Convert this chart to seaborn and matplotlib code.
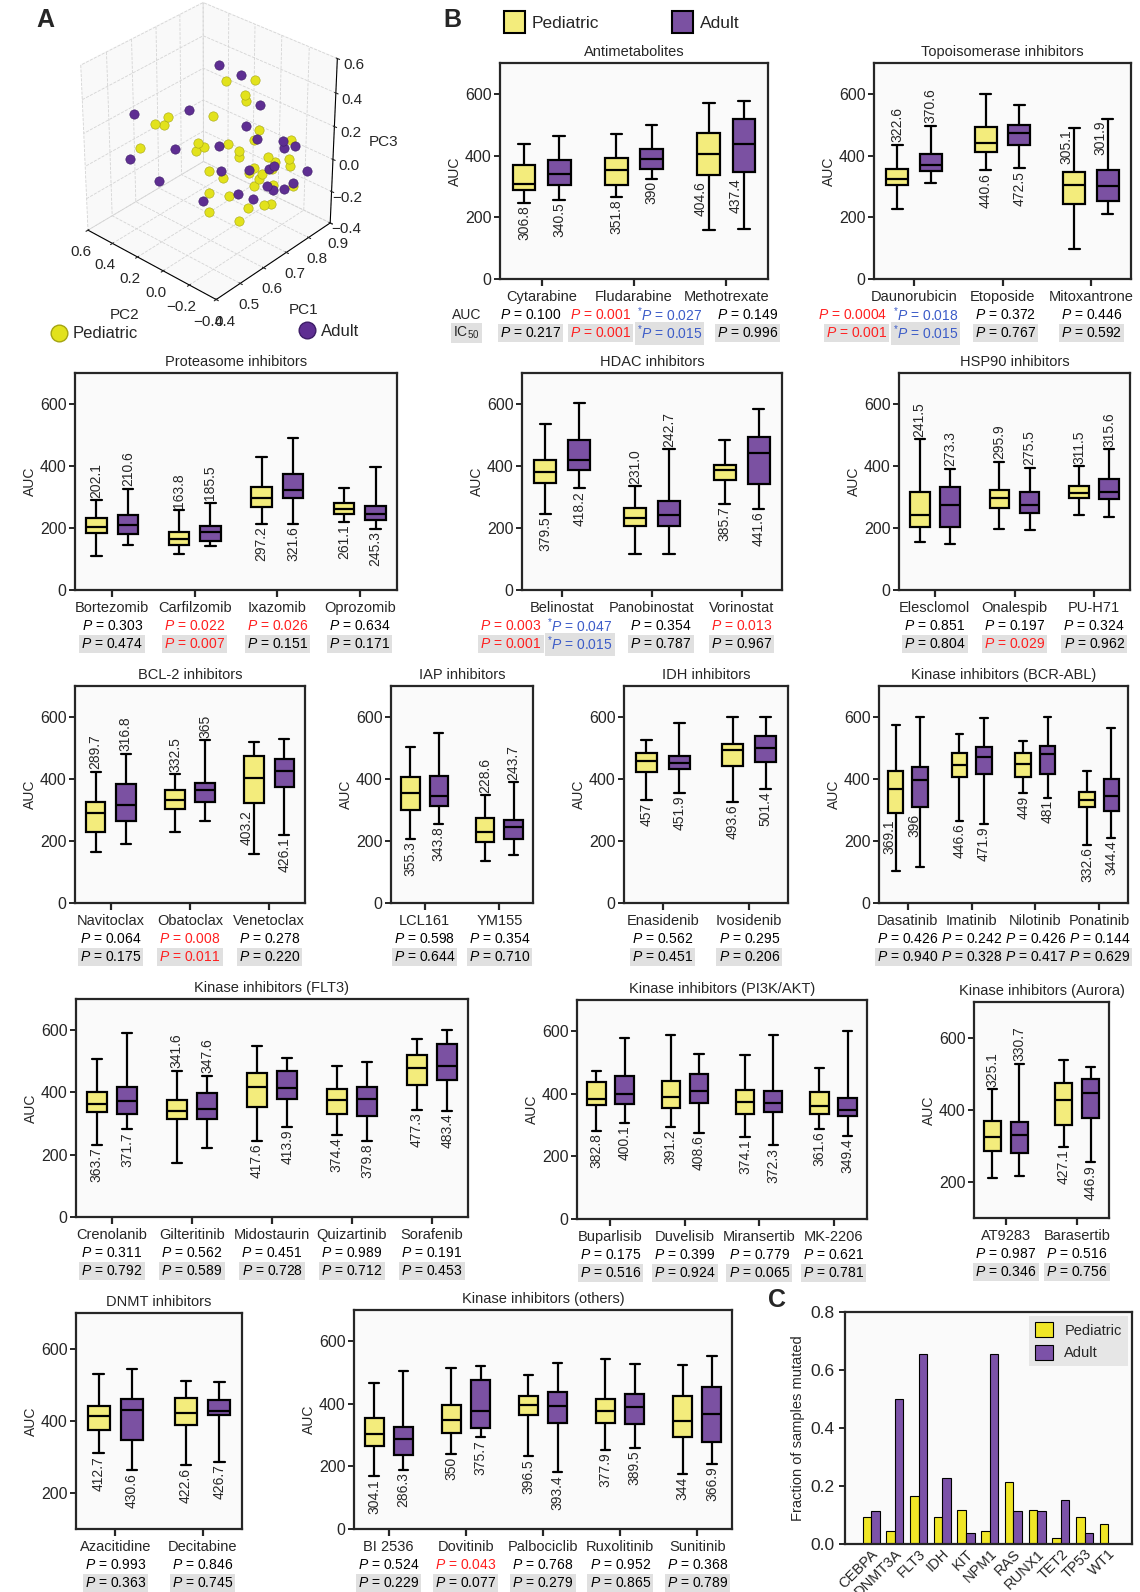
import matplotlib
matplotlib.use('Agg')
import matplotlib.pyplot as plt
import seaborn as sns
import pandas as pd
from matplotlib.patches import Patch
from matplotlib.lines import Line2D

W, H = 1140, 1592
PED = '#f3ec7c'
ADU = '#7b51a2'
COL = {'k': 'black', 'r': '#ff1f1f', 'b': '#3c5cc8'}

# ---------------- panel A: PCA (PC1, PC2, PC3) ----------------
ped_pc1 = [0.68, 0.74, 0.72, 0.72, 0.66, 0.57, 0.54, 0.56, 0.75, 0.51, 0.63, 0.62, 0.64, 0.69, 0.74, 0.81, 0.71, 0.71, 0.77, 0.78,
           0.81, 0.81, 0.78, 0.74, 0.73, 0.76, 0.65, 0.68, 0.75, 0.74, 0.78, 0.82, 0.65, 0.69, 0.73, 0.76, 0.78, 0.65, 0.71]
ped_pc2 = [0.03, -0.08, -0.04, -0.05, 0.09, 0.27, 0.31, 0.28, -0.10, 0.38, 0.15, 0.15, 0.12, 0.03, -0.08, -0.23, -0.02, -0.02, -0.13, -0.17,
           -0.22, -0.23, -0.15, -0.08, -0.06, -0.11, 0.10, 0.05, -0.10, -0.08, -0.16, -0.24, 0.10, 0.02, -0.06, -0.13, -0.15, 0.10, -0.02]
ped_pc3 = [0.49, 0.49, 0.40, 0.37, 0.28, 0.28, 0.25, 0.24, 0.19, 0.10, 0.12, 0.08, 0.10, 0.11, 0.13, 0.13, 0.07, 0.03, 0.02, 0.00,
           0.01, -0.03, -0.05, -0.04, -0.07, -0.08, -0.05, -0.10, -0.11, -0.15, -0.15, -0.16, -0.19, -0.21, -0.29, -0.27, -0.27, -0.31, -0.37]
adu_pc1 = [0.67, 0.71, 0.75, 0.50, 0.61, 0.72, 0.745, 0.58, 0.67, 0.80, 0.80, 0.82, 0.49, 0.73, 0.77, 0.78, 0.67, 0.85, 0.55, 0.77,
           0.78, 0.80, 0.82, 0.71, 0.74, 0.64]
adu_pc2 = [0.065, -0.03, -0.10, 0.40, 0.18, -0.05, -0.09, 0.24, 0.06, -0.19, -0.20, -0.25, 0.42, -0.06, -0.14, -0.16, 0.05, -0.29, 0.31, -0.13,
           -0.16, -0.21, -0.24, -0.01, -0.08, 0.13]
adu_pc3 = [0.58, 0.52, 0.34, 0.31, 0.32, 0.22, 0.14, 0.09, 0.10, 0.12, 0.08, 0.09, 0.04, -0.05, -0.05, -0.03, -0.05, -0.07, -0.11, -0.16,
           -0.18, -0.17, -0.14, -0.20, -0.23, -0.24]

# ---------------- panel B: AUC boxes (low whisker, Q1, median, Q3, high whisker) ----------------
antimet_drugs = ['Cytarabine', 'Fludarabine', 'Methotrexate']
antimet_ped = [[246, 288, 306.8, 369, 439], [265, 306, 351.8, 392, 470], [160, 338, 404.6, 473, 571]]
antimet_adu = [[256, 304, 340.5, 387, 465], [325, 355, 390, 420, 499], [162, 346, 437.4, 519, 578]]
antimet_lab = [['306.8', '340.5'], ['351.8', '390'], ['404.6', '437.4']]
antimet_pos = [['b', 'b'], ['b', 'b'], ['sl', 'sl']]
antimet_auc = ['0.100', [('0.001', 'r'), ('0.027', 'b')], '0.149']
antimet_ic50 = ['0.217', [('0.001', 'r'), ('0.015', 'b')], '0.996']

topo_drugs = ['Daunorubicin', 'Etoposide', 'Mitoxantrone']
topo_ped = [[227, 304, 322.6, 358, 435], [352, 411, 440.6, 493, 600], [98, 242, 305.1, 346, 490]]
topo_adu = [[312, 349, 370.6, 406, 497], [359, 435, 472.5, 500, 564], [211, 254, 301.9, 353, 517]]
topo_lab = [['322.6', '370.6'], ['440.6', '472.5'], ['305.1', '301.9']]
topo_pos = [['a', 'a'], ['b', 'b'], ['sh', 'sh']]
topo_auc = [[('0.0004', 'r'), ('0.018', 'b')], '0.372', '0.446']
topo_ic50 = [[('0.001', 'r'), ('0.015', 'b')], '0.767', '0.592']

prot_drugs = ['Bortezomib', 'Carfilzomib', 'Ixazomib', 'Oprozomib']
prot_ped = [[111, 184, 202.1, 232, 289], [117, 145, 163.8, 187, 258], [213, 268, 297.2, 332, 430], [219, 245, 261.1, 281, 330]]
prot_adu = [[144, 182, 210.6, 243, 326], [141, 159, 185.5, 208, 281], [213, 297, 321.6, 373, 490], [198, 225, 245.3, 272, 397]]
prot_lab = [['202.1', '210.6'], ['163.8', '185.5'], ['297.2', '321.6'], ['261.1', '245.3']]
prot_pos = [['a', 'a'], ['a', 'a'], ['b', 'b'], ['b', 'b']]
prot_auc = ['0.303', ('0.022', 'r'), ('0.026', 'r'), '0.634']
prot_ic50 = ['0.474', ('0.007', 'r'), '0.151', '0.171']

hdac_drugs = ['Belinostat', 'Panobinostat', 'Vorinostat']
hdac_ped = [[246, 346, 379.5, 419, 537], [116, 205, 231.0, 265, 335], [279, 354, 385.7, 403, 484]]
hdac_adu = [[328, 387, 418.2, 483, 602], [117, 205, 242.7, 286, 454], [262, 343, 441.6, 494, 584]]
hdac_lab = [['379.5', '418.2'], ['231.0', '242.7'], ['385.7', '441.6']]
hdac_pos = [['b', 'b'], ['a', 'a'], ['b', 'b']]
hdac_auc = [[('0.003', 'r'), ('0.047', 'b')], '0.354', ('0.013', 'r')]
hdac_ic50 = [[('0.001', 'r'), ('0.015', 'b')], '0.787', '0.967']

hsp_drugs = ['Elesclomol', 'Onalespib', 'PU-H71']
hsp_ped = [[154, 203, 241.5, 316, 486], [197, 265, 295.9, 322, 413], [243, 297, 311.5, 337, 400]]
hsp_adu = [[148, 202, 273.3, 332, 391], [192, 249, 275.5, 316, 395], [236, 294, 315.6, 357, 454]]
hsp_lab = [['241.5', '273.3'], ['295.9', '275.5'], ['311.5', '315.6']]
hsp_pos = [['a', 'a'], ['a', 'a'], ['a', 'a']]
hsp_auc = ['0.851', '0.197', '0.324']
hsp_ic50 = ['0.804', ('0.029', 'r'), '0.962']

bcl_drugs = ['Navitoclax', 'Obatoclax', 'Venetoclax']
bcl_ped = [[166, 228, 289.7, 325, 423], [230, 302, 332.5, 365, 416], [158, 321, 403.2, 475, 518]]
bcl_adu = [[190, 266, 316.8, 384, 481], [263, 327, 365, 387, 525], [219, 375, 426.1, 463, 528]]
bcl_lab = [['289.7', '316.8'], ['332.5', '365'], ['403.2', '426.1']]
bcl_pos = [['a', 'a'], ['a', 'a'], ['sl', 'b']]
bcl_auc = ['0.064', ('0.008', 'r'), '0.278']
bcl_ic50 = ['0.175', ('0.011', 'r'), '0.220']

iap_drugs = ['LCL161', 'YM155']
iap_ped = [[207, 301, 355.3, 405, 503], [137, 196, 228.6, 275, 348]]
iap_adu = [[255, 312, 343.8, 411, 548], [155, 207, 243.7, 268, 389]]
iap_lab = [['355.3', '343.8'], ['228.6', '243.7']]
iap_pos = [['b', 'b'], ['a', 'a']]
iap_auc = ['0.598', '0.354']
iap_ic50 = ['0.644', '0.710']

idh_drugs = ['Enasidenib', 'Ivosidenib']
idh_ped = [[332, 424, 457, 485, 526], [325, 442, 493.6, 512, 600]]
idh_adu = [[354, 433, 451.9, 475, 580], [367, 456, 501.4, 540, 600]]
idh_lab = [['457', '451.9'], ['493.6', '501.4']]
idh_pos = [['b', 'b'], ['b', 'b']]
idh_auc = ['0.562', '0.295']
idh_ic50 = ['0.451', '0.206']

abl_drugs = ['Dasatinib', 'Imatinib', 'Nilotinib', 'Ponatinib']
abl_ped = [[104, 289, 369.1, 427, 575], [264, 408, 446.6, 483, 546], [354, 408, 449, 485, 521], [187, 311, 332.6, 359, 427]]
abl_adu = [[117, 309, 396, 440, 600], [255, 416, 471.9, 502, 597], [340, 415, 481, 505, 600], [211, 298, 344.4, 399, 566]]
abl_lab = [['369.1', '396'], ['446.6', '471.9'], ['449', '481'], ['332.6', '344.4']]
abl_pos = [['sl', 'sl'], ['b', 'b'], ['b', 'b'], ['b', 'b']]
abl_auc = ['0.426', '0.242', '0.426', '0.144']
abl_ic50 = ['0.940', '0.328', '0.417', '0.629']

flt_drugs = ['Crenolanib', 'Gilteritinib', 'Midostaurin', 'Quizartinib', 'Sorafenib']
flt_ped = [[232, 338, 363.7, 400, 506], [175, 314, 341.6, 375, 470], [243, 354, 417.6, 462, 548],
           [263, 332, 374.4, 411, 484], [344, 424, 477.3, 519, 570]]
flt_adu = [[281, 332, 371.7, 416, 591], [222, 316, 347.6, 399, 454], [290, 378, 413.9, 468, 510],
           [243, 324, 379.8, 418, 498], [341, 440, 483.4, 555, 602]]
flt_lab = [['363.7', '371.7'], ['341.6', '347.6'], ['417.6', '413.9'], ['374.4', '379.8'], ['477.3', '483.4']]
flt_pos = [['b', 'b'], ['a', 'a'], ['b', 'b'], ['b', 'b'], ['b', 'b']]
flt_auc = ['0.311', '0.562', '0.451', '0.989', '0.191']
flt_ic50 = ['0.792', '0.589', '0.728', '0.712', '0.453']

pi3k_drugs = ['Buparlisib', 'Duvelisib', 'Miransertib', 'MK-2206']
pi3k_ped = [[281, 365, 382.8, 437, 474], [293, 356, 391.2, 440, 587], [261, 337, 374.1, 413, 524], [287, 337, 361.6, 407, 484]]
pi3k_adu = [[307, 366, 400.1, 456, 579], [276, 371, 408.6, 465, 528], [235, 342, 372.3, 408, 587], [265, 329, 349.4, 386, 600]]
pi3k_lab = [['382.8', '400.1'], ['391.2', '408.6'], ['374.1', '372.3'], ['361.6', '349.4']]
pi3k_pos = [['b', 'b'], ['b', 'b'], ['b', 'b'], ['b', 'b']]
pi3k_auc = ['0.175', '0.399', '0.779', '0.621']
pi3k_ic50 = ['0.516', '0.924', '0.065', '0.781']

aur_drugs = ['AT9283', 'Barasertib']
aur_ped = [[212, 286, 325.1, 370, 457], [298, 358, 427.1, 474, 540]]
aur_adu = [[218, 280, 330.7, 366, 528], [255, 379, 446.9, 485, 520]]
aur_lab = [['325.1', '330.7'], ['427.1', '446.9']]
aur_pos = [['a', 'a'], ['b', 'b']]
aur_auc = ['0.987', '0.516']
aur_ic50 = ['0.346', '0.756']

dnmt_drugs = ['Azacitidine', 'Decitabine']
dnmt_ped = [[311, 374, 412.7, 443, 531], [277, 389, 422.6, 464, 512]]
dnmt_adu = [[263, 347, 430.6, 461, 545], [287, 417, 426.7, 458, 509]]
dnmt_lab = [['412.7', '430.6'], ['422.6', '426.7']]
dnmt_pos = [['b', 'b'], ['b', 'b']]
dnmt_auc = ['0.993', '0.846']
dnmt_ic50 = ['0.363', '0.745']

oth_drugs = ['BI 2536', 'Dovitinib', 'Palbociclib', 'Ruxolitinib', 'Sunitinib']
oth_ped = [[168, 266, 304.1, 354, 466], [240, 308, 350, 397, 514], [232, 363, 396.5, 426, 491],
           [253, 338, 377.9, 416, 543], [175, 293, 344, 424, 525]]
oth_adu = [[189, 235, 286.3, 326, 504], [293, 324, 375.7, 475, 522], [181, 338, 393.4, 438, 530],
           [258, 335, 389.5, 431, 528], [208, 279, 366.9, 454, 554]]
oth_lab = [['304.1', '286.3'], ['350', '375.7'], ['396.5', '393.4'], ['377.9', '389.5'], ['344', '366.9']]
oth_pos = [['b', 'b'], ['b', 'b'], ['b', 'b'], ['b', 'b'], ['b', 'b']]
oth_auc = ['0.524', ('0.043', 'r'), '0.768', '0.952', '0.368']
oth_ic50 = ['0.229', '0.077', '0.279', '0.865', '0.789']

# ---------------- panel C: mutation frequencies ----------------
genes = ['CEBPA', 'DNMT3A', 'FLT3', 'IDH', 'KIT', 'NPM1', 'RAS', 'RUNX1', 'TET2', 'TP53', 'WT1']
ped_frac = [0.092, 0.045, 0.166, 0.092, 0.117, 0.045, 0.213, 0.117, 0.022, 0.092, 0.069]
adu_frac = [0.114, 0.500, 0.655, 0.229, 0.037, 0.655, 0.114, 0.114, 0.152, 0.037, 0.0]

sns.set_style('ticks')
plt.rcParams['font.family'] = ['Liberation Sans', 'DejaVu Sans']
plt.rcParams['mathtext.fontset'] = 'custom'
plt.rcParams['mathtext.rm'] = 'Liberation Sans'
plt.rcParams['mathtext.it'] = 'Liberation Sans:italic'

P_SIZE = 10


def rect(l, t, r, b):
    return [l / W, 1 - b / H, (r - l) / W, (b - t) / H]


def p_label(val, c):
    star = r'$^{*}$' if c == 'b' else ''
    return star + r'$P$ = ' + val


def p_row(ax, i, entry, dy, shaded, dx=0):
    if isinstance(entry, str):
        entry = [(entry, 'k')]
    elif isinstance(entry, tuple):
        entry = [entry]
    bb = dict(boxstyle='square,pad=0.15', fc='#e0e0e0', ec='none') if shaded else None
    kw = dict(xycoords=('data', 'axes fraction'), textcoords='offset points', va='center',
              fontsize=P_SIZE, annotation_clip=False)
    ox = dx * 0.72
    if len(entry) == 1:
        v, c = entry[0]
        ax.annotate(p_label(v, c), xy=(i, 0), xytext=(ox, -dy), ha='center', color=COL[c], bbox=bb, **kw)
    else:
        (v1, c1), (v2, c2) = entry
        ax.annotate(p_label(v1, c1), xy=(i, 0), xytext=(ox - 2, -dy), ha='right', color=COL[c1], bbox=bb, **kw)
        ax.annotate(p_label(v2, c2), xy=(i, 0), xytext=(ox + 2, -dy), ha='left', color=COL[c2], bbox=bb, **kw)


def box_panel(fig, box, title, drugs, ped, adu, labs, pos, auc_p, ic50_p, ymin=0, row_names=False, p_dx=None):
    ax = fig.add_axes(rect(*box))
    rows = []
    for d, p, a in zip(drugs, ped, adu):
        rows += [(d, 'Pediatric', v) for v in p]
        rows += [(d, 'Adult', v) for v in a]
    df = pd.DataFrame(rows, columns=['drug', 'group', 'auc'])
    sns.boxplot(data=df, x='drug', y='auc', hue='group', order=drugs, hue_order=['Pediatric', 'Adult'],
                palette={'Pediatric': PED, 'Adult': ADU}, saturation=1, whis=(0, 100), width=0.76, gap=0.35,
                linewidth=1.6, linecolor='black', showfliers=False, legend=False, ax=ax)
    n = len(drugs)
    if p_dx is None:
        p_dx = [0] * n
    ax.set_xlim(-0.45, n - 1 + 0.45)
    ax.set_ylim(ymin, 700)
    ax.set_yticks([t for t in (0, 200, 400, 600) if t >= ymin])
    ax.set_facecolor('#fafafa')
    for s in ax.spines.values():
        s.set_linewidth(1.6)
        s.set_visible(True)
    ax.tick_params(axis='x', length=5, width=1.6, pad=3, labelsize=10.5)
    ax.tick_params(axis='y', length=4, width=1.4, pad=2, labelsize=11.5)
    ax.set_xlabel('')
    ax.set_ylabel('AUC', fontsize=10, labelpad=2)
    ax.set_title(title, fontsize=10.5, pad=5)
    for i in range(n):
        for k, (st, lab, mode) in enumerate(zip((ped[i], adu[i]), labs[i], pos[i])):
            x = i + (-0.19 if k == 0 else 0.19)
            lo, q1, med, q3, hi = st
            kw = dict(rotation=90, ha='center', fontsize=10)
            if mode == 'a':
                ax.text(x, hi + 8, lab, va='bottom', **kw)
            elif mode == 'b':
                ax.text(x, lo - 8, lab, va='top', **kw)
            elif mode == 'sh':
                ax.text(x - 0.09, hi - 4, lab, va='top', **kw)
            else:
                ax.text(x - 0.09, q1 - 20, lab, va='top', **kw)
        p_row(ax, i, auc_p[i], 26, False, p_dx[i])
        p_row(ax, i, ic50_p[i], 39, True, p_dx[i])
    if row_names:
        kw = dict(xy=(0, 0), xycoords='axes fraction', textcoords='offset points', ha='center',
                  va='center', fontsize=P_SIZE, annotation_clip=False)
        ax.annotate('AUC', xytext=(-24, -26), **kw)
        ax.annotate(r'IC$_{50}$', xytext=(-24, -39),
                    bbox=dict(boxstyle='square,pad=0.15', fc='#e0e0e0', ec='none'), **kw)
    return ax


fig = plt.figure(figsize=(W / 100, H / 100), dpi=100)

# ---- A ---- (PC2 on the x axis, reversed, so that PC3 sits on the right-hand edge)
ax3 = fig.add_axes(rect(0, -14, 410, 316), projection='3d')
ax3.scatter(ped_pc2, ped_pc1, ped_pc3, s=45, color='#e2e21c', edgecolors='#a5a512', linewidths=0.4, depthshade=False)
ax3.scatter(adu_pc2, adu_pc1, adu_pc3, s=45, color='#5e2e92', edgecolors='#3c1c66', linewidths=0.4, depthshade=False)
ax3.set_xlim(0.6, -0.4)
ax3.set_ylim(0.4, 0.9)
ax3.set_zlim(-0.4, 0.6)
ax3.set_xticks([0.6, 0.4, 0.2, 0.0, -0.2, -0.4])
ax3.set_yticks([0.4, 0.5, 0.6, 0.7, 0.8, 0.9])
ax3.set_zticks([-0.4, -0.2, 0.0, 0.2, 0.4, 0.6])
ax3.view_init(elev=32, azim=-48)
ax3.set_box_aspect((1, 1, 1.1), zoom=0.93)
for a in (ax3.xaxis, ax3.yaxis, ax3.zaxis):
    a.set_pane_color((0.975, 0.975, 0.975, 1))
    a._axinfo['grid'].update(color='#d4d4d4', linewidth=0.6, linestyle='--')
    a.line.set_color('black')
ax3.tick_params(labelsize=11, pad=0)
ax3.set_xlabel('PC2', fontsize=11, labelpad=6)
ax3.set_ylabel('PC1', fontsize=11, labelpad=6)
ax3.set_zlabel('PC3', fontsize=11, labelpad=4)
fig.legend(handles=[Line2D([], [], ls='', marker='o', markersize=12, mfc='#e2e21c', mec='#a5a512')],
           labels=['Pediatric'], loc='center left', bbox_to_anchor=(36 / W, 1 - 334 / H), frameon=False,
           fontsize=12, handlelength=1.0, handletextpad=0.3)
fig.legend(handles=[Line2D([], [], ls='', marker='o', markersize=12, mfc='#5e2e92', mec='#3c1c66')],
           labels=['Adult'], loc='center left', bbox_to_anchor=(284 / W, 1 - 331 / H), frameon=False,
           fontsize=12, handlelength=1.0, handletextpad=0.3)

# ---- B ----
fig.legend(handles=[Patch(fc=PED, ec='black', lw=1.5), Patch(fc=ADU, ec='black', lw=1.5)],
           labels=['Pediatric', 'Adult'], loc='center', bbox_to_anchor=(622 / W, 1 - 22 / H), ncol=2,
           frameon=False, fontsize=12.5, handlelength=1.2, handleheight=1.5, handletextpad=0.4, columnspacing=4.2)

box_panel(fig, (500, 63, 768, 279), 'Antimetabolites', antimet_drugs, antimet_ped, antimet_adu,
          antimet_lab, antimet_pos, antimet_auc, antimet_ic50, row_names=True, p_dx=[-11, 0, 21])
box_panel(fig, (874, 63, 1131, 279), 'Topoisomerase inhibitors', topo_drugs, topo_ped, topo_adu,
          topo_lab, topo_pos, topo_auc, topo_ic50, p_dx=[-24, 3, 0])
box_panel(fig, (75, 373, 397, 590), 'Proteasome inhibitors', prot_drugs, prot_ped, prot_adu,
          prot_lab, prot_pos, prot_auc, prot_ic50)
box_panel(fig, (522, 373, 782, 590), 'HDAC inhibitors', hdac_drugs, hdac_ped, hdac_adu,
          hdac_lab, hdac_pos, hdac_auc, hdac_ic50, p_dx=[-18, 9, 0])
box_panel(fig, (899, 373, 1130, 590), 'HSP90 inhibitors', hsp_drugs, hsp_ped, hsp_adu,
          hsp_lab, hsp_pos, hsp_auc, hsp_ic50)
box_panel(fig, (75, 686, 305, 903), 'BCL-2 inhibitors', bcl_drugs, bcl_ped, bcl_adu,
          bcl_lab, bcl_pos, bcl_auc, bcl_ic50)
box_panel(fig, (391, 686, 533, 903), 'IAP inhibitors', iap_drugs, iap_ped, iap_adu,
          iap_lab, iap_pos, iap_auc, iap_ic50)
box_panel(fig, (624, 686, 788, 903), 'IDH inhibitors', idh_drugs, idh_ped, idh_adu,
          idh_lab, idh_pos, idh_auc, idh_ic50)
box_panel(fig, (879, 686, 1128, 903), 'Kinase inhibitors (BCR-ABL)', abl_drugs, abl_ped, abl_adu,
          abl_lab, abl_pos, abl_auc, abl_ic50)
box_panel(fig, (76, 999, 468, 1217), 'Kinase inhibitors (FLT3)', flt_drugs, flt_ped, flt_adu,
          flt_lab, flt_pos, flt_auc, flt_ic50)
box_panel(fig, (577, 1000, 867, 1219), 'Kinase inhibitors (PI3K/AKT)', pi3k_drugs, pi3k_ped, pi3k_adu,
          pi3k_lab, pi3k_pos, pi3k_auc, pi3k_ic50)
box_panel(fig, (974, 1002, 1109, 1218), 'Kinase inhibitors (Aurora)', aur_drugs, aur_ped, aur_adu,
          aur_lab, aur_pos, aur_auc, aur_ic50, ymin=100)
box_panel(fig, (76, 1313, 242, 1529), 'DNMT inhibitors', dnmt_drugs, dnmt_ped, dnmt_adu,
          dnmt_lab, dnmt_pos, dnmt_auc, dnmt_ic50, ymin=100)
box_panel(fig, (354, 1310, 732, 1529), 'Kinase inhibitors (others)', oth_drugs, oth_ped, oth_adu,
          oth_lab, oth_pos, oth_auc, oth_ic50)

# ---- C ----
axc = fig.add_axes(rect(845, 1312, 1132, 1544))
mut = pd.DataFrame({'gene': genes * 2, 'group': ['Pediatric'] * len(genes) + ['Adult'] * len(genes),
                    'frac': ped_frac + adu_frac})
sns.barplot(data=mut, x='gene', y='frac', hue='group', order=genes, hue_order=['Pediatric', 'Adult'],
            palette={'Pediatric': '#f0e626', 'Adult': '#7c52a8'}, saturation=1, width=0.72,
            edgecolor='black', linewidth=0.8, ax=axc)
axc.set_xlim(-1.1, 11.0)
axc.set_ylim(0, 0.8)
axc.set_yticks([0.0, 0.2, 0.4, 0.6, 0.8])
axc.set_yticklabels(['0.0', '0.2', '0.4', '0.6', '0.8'])
axc.set_facecolor('#fafafa')
for s in axc.spines.values():
    s.set_linewidth(1.6)
    s.set_visible(True)
axc.tick_params(axis='x', length=0, pad=2, labelsize=10.5)
axc.tick_params(axis='y', length=4, width=1.4, labelsize=12.5)
plt.setp(axc.get_xticklabels(), rotation=45, ha='right', rotation_mode='anchor')
axc.set_xlabel('')
axc.set_ylabel('Fraction of samples mutated', fontsize=10.5)
axc.legend(loc='upper right', title=None, fontsize=10.5, facecolor='#e6e6e6', edgecolor='none',
           framealpha=1, fancybox=False, handlelength=1.2, handleheight=1.2, borderaxespad=0.3)

# panel letters
for letter, x, y in (('A', 45, 20), ('B', 452, 20), ('C', 777, 1300)):
    fig.text(x / W, 1 - y / H, letter, fontsize=18, fontweight='bold', ha='center', va='center')

fig.savefig('out.png', dpi=100)
